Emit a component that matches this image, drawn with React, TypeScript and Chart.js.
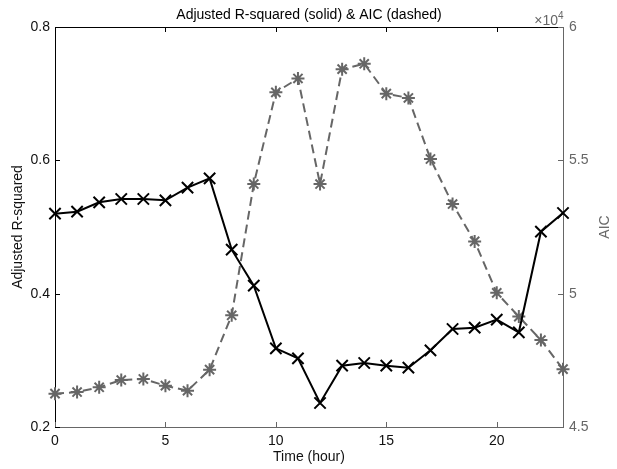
import React, { useEffect, useRef } from "react";
import { Chart, registerables } from "chart.js";

Chart.register(...registerables);

// ---- data ----
const hours = [0, 1, 2, 3, 4, 5, 6, 7, 8, 9, 10, 11, 12, 13, 14, 15, 16, 17, 18, 19, 20, 21, 22, 23];
const adjR2 = [0.52, 0.523, 0.537, 0.542, 0.542, 0.54, 0.559, 0.573, 0.466, 0.412, 0.318, 0.303, 0.236, 0.292, 0.296, 0.292, 0.289, 0.315, 0.347, 0.349, 0.361, 0.342, 0.493, 0.521];
const aic = [46250, 46310, 46490, 46760, 46800, 46550, 46360, 47150, 49190, 54110, 57550, 58070, 54110, 58420, 58620, 57500, 57340, 55050, 53360, 51960, 50030, 49140, 48260, 47170];
const xTickValues = [0, 5, 10, 15, 20];
const leftTickValues = [0.2, 0.4, 0.6, 0.8];
const rightTickValues = [45000, 50000, 55000, 60000];
const titleText = "Adjusted R-squared (solid) & AIC (dashed)";
const xLabel = "Time (hour)";
const leftLabel = "Adjusted R-squared";
const rightLabel = "AIC";
const rightExponent = "4";

const FONT = "'Liberation Sans', Arial, Helvetica, sans-serif";
const GREY = "#666666";

const decorPlugin = {
  id: "decor",
  afterDraw(chart: any) {
    const { ctx, chartArea: a, scales } = chart;
    const L = 5;
    ctx.save();
    ctx.lineWidth = 1;
    // top border
    ctx.strokeStyle = "#000";
    ctx.beginPath();
    ctx.moveTo(a.left, Math.round(a.top) + 0.5);
    ctx.lineTo(a.right, Math.round(a.top) + 0.5);
    ctx.stroke();
    // x ticks (top black, bottom grey)
    for (const v of xTickValues) {
      const px = Math.round(scales.x.getPixelForValue(v)) + 0.5;
      ctx.strokeStyle = "#000";
      ctx.beginPath();
      ctx.moveTo(px, a.top);
      ctx.lineTo(px, a.top + L);
      ctx.stroke();
      ctx.strokeStyle = GREY;
      ctx.beginPath();
      ctx.moveTo(px, a.bottom);
      ctx.lineTo(px, a.bottom - L);
      ctx.stroke();
    }
    // left ticks
    ctx.strokeStyle = "#000";
    for (const v of leftTickValues) {
      const py = Math.round(scales.y.getPixelForValue(v)) + 0.5;
      ctx.beginPath();
      ctx.moveTo(a.left, py);
      ctx.lineTo(a.left + L, py);
      ctx.stroke();
    }
    // right ticks
    ctx.strokeStyle = GREY;
    for (const v of rightTickValues) {
      const py = Math.round(scales.y1.getPixelForValue(v)) + 0.5;
      ctx.beginPath();
      ctx.moveTo(a.right, py);
      ctx.lineTo(a.right - L, py);
      ctx.stroke();
    }
    // title
    ctx.fillStyle = "#000";
    ctx.font = `14px ${FONT}`;
    ctx.textAlign = "center";
    ctx.textBaseline = "alphabetic";
    ctx.fillText(titleText, (a.left + a.right) / 2, 19);
    // exponent
    ctx.fillStyle = GREY;
    ctx.textAlign = "right";
    ctx.font = `14px ${FONT}`;
    ctx.fillText("\u00d710", a.right - 5, 25);
    ctx.textAlign = "left";
    ctx.font = `10px ${FONT}`;
    ctx.fillText(rightExponent, a.right - 5, 19);
    // right axis label
    ctx.save();
    ctx.translate(605, (a.top + a.bottom) / 2);
    ctx.rotate(-Math.PI / 2);
    ctx.textAlign = "center";
    ctx.textBaseline = "middle";
    ctx.font = `14px ${FONT}`;
    ctx.fillStyle = GREY;
    ctx.fillText(rightLabel, 0, 0);
    ctx.restore();
    ctx.restore();
  },
};

export default function App() {
  const ref = useRef<HTMLCanvasElement | null>(null);
  useEffect(() => {
    if (!ref.current) return;
    const chart = new Chart(ref.current, {
      type: "line",
      data: {
        datasets: [
          {
            label: "Adjusted R-squared",
            data: hours.map((h, i) => ({ x: h, y: adjR2[i] })),
            yAxisID: "y",
            borderColor: "#000",
            backgroundColor: "#000",
            borderWidth: 2,
            pointStyle: "crossRot",
            pointRadius: 8,
            pointBorderWidth: 2,
            pointBorderColor: "#000",
            tension: 0,
            clip: false,
          },
          {
            label: "AIC",
            data: hours.map((h, i) => ({ x: h, y: aic[i] })),
            yAxisID: "y1",
            borderColor: GREY,
            backgroundColor: GREY,
            borderWidth: 2,
            borderDash: [9, 5],
            pointStyle: "star",
            pointRadius: 6.5,
            pointBorderWidth: 2,
            pointBorderColor: GREY,
            tension: 0,
            clip: false,
          },
        ],
      },
      options: {
        animation: false,
        responsive: false,
        maintainAspectRatio: false,
        layout: { padding: { top: 27, left: 0, right: 0, bottom: 0 } },
        plugins: {
          legend: { display: false },
          tooltip: { enabled: false },
          title: { display: false },
        },
        scales: {
          x: {
            type: "linear",
            min: 0,
            max: 23,
            grid: { display: false, drawTicks: false },
            border: { display: true, color: GREY, width: 1 },
            afterBuildTicks: (s: any) => {
              s.ticks = xTickValues.map((v) => ({ value: v }));
            },
            afterFit: (s: any) => {
              s.height = 42;
            },
            ticks: {
              autoSkip: false,
              maxRotation: 0,
              padding: 6,
              color: "#111",
              font: { family: FONT, size: 14 },
              callback: (v: any) => String(v),
            },
            title: {
              display: true,
              text: xLabel,
              color: "#111",
              font: { family: FONT, size: 14 },
              padding: { top: 0, bottom: 3 },
            },
          },
          y: {
            type: "linear",
            position: "left",
            min: 0.2,
            max: 0.8,
            grid: { display: false, drawTicks: false },
            border: { display: true, color: "#000", width: 1 },
            afterBuildTicks: (s: any) => {
              s.ticks = leftTickValues.map((v) => ({ value: v }));
            },
            afterFit: (s: any) => {
              s.width = 55;
            },
            ticks: {
              padding: 5,
              color: "#111",
              font: { family: FONT, size: 14 },
              callback: (v: any) => Number(v).toFixed(1),
            },
            title: {
              display: true,
              text: leftLabel,
              color: "#111",
              font: { family: FONT, size: 14 },
              padding: { top: 10, bottom: 0 },
            },
          },
          y1: {
            type: "linear",
            position: "right",
            min: 45000,
            max: 60000,
            grid: { display: false, drawTicks: false },
            border: { display: true, color: GREY, width: 1 },
            afterBuildTicks: (s: any) => {
              s.ticks = rightTickValues.map((v) => ({ value: v }));
            },
            afterFit: (s: any) => {
              s.width = 54;
            },
            ticks: {
              padding: 6,
              color: GREY,
              font: { family: FONT, size: 14 },
              callback: (v: any) => String(Number(v) / 10000),
            },
          },
        },
      },
      plugins: [decorPlugin],
    });
    return () => chart.destroy();
  }, []);

  return (
    <div style={{ position: "fixed", left: 0, top: 0, width: 617, height: 469, background: "#fff" }}>
      <canvas ref={ref} width={617} height={469} style={{ width: 617, height: 469, display: "block" }} />
    </div>
  );
}
